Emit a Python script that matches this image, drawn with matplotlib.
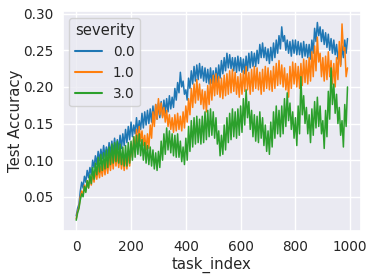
import numpy as np
import matplotlib
matplotlib.use("Agg")
import matplotlib.pyplot as plt
import seaborn as sns

task_index = list(range(0, 995, 5))

acc_sev_0 = [
    0.024, 0.034, 0.040, 0.058, 0.070, 0.062, 0.078, 0.070, 0.086, 0.076, 0.090, 0.080, 0.100, 0.090, 0.106, 0.094, 0.112, 0.099, 0.115, 0.102,
    0.120, 0.104, 0.118, 0.106, 0.124, 0.108, 0.126, 0.110, 0.130, 0.112, 0.128, 0.114, 0.134, 0.116, 0.136, 0.120, 0.142, 0.124, 0.146, 0.128,
    0.152, 0.132, 0.148, 0.136, 0.158, 0.138, 0.154, 0.142, 0.164, 0.144, 0.166, 0.148, 0.168, 0.150, 0.170, 0.152, 0.174, 0.154, 0.176, 0.156,
    0.178, 0.158, 0.180, 0.160, 0.182, 0.164, 0.184, 0.166, 0.188, 0.170, 0.186, 0.172, 0.198, 0.182, 0.206, 0.192, 0.220, 0.200, 0.208, 0.190,
    0.196, 0.182, 0.212, 0.198, 0.222, 0.204, 0.228, 0.208, 0.230, 0.210, 0.232, 0.212, 0.228, 0.208, 0.226, 0.206, 0.224, 0.204, 0.226, 0.205,
    0.222, 0.203, 0.226, 0.206, 0.230, 0.212, 0.236, 0.218, 0.240, 0.222, 0.246, 0.226, 0.244, 0.225, 0.240, 0.222, 0.240, 0.220, 0.242, 0.222,
    0.240, 0.220, 0.238, 0.218, 0.242, 0.222, 0.246, 0.226, 0.248, 0.228, 0.246, 0.228, 0.250, 0.232, 0.258, 0.240, 0.260, 0.240, 0.254, 0.236,
    0.252, 0.232, 0.254, 0.236, 0.260, 0.240, 0.264, 0.246, 0.270, 0.252, 0.282, 0.262, 0.270, 0.250, 0.264, 0.246, 0.262, 0.242, 0.264, 0.246,
    0.264, 0.244, 0.262, 0.244, 0.260, 0.240, 0.262, 0.242, 0.258, 0.240, 0.258, 0.238, 0.264, 0.246, 0.280, 0.262, 0.288, 0.270, 0.282, 0.262,
    0.278, 0.258, 0.274, 0.254, 0.272, 0.250, 0.266, 0.246, 0.264, 0.244, 0.258, 0.238, 0.248, 0.230, 0.256, 0.240, 0.264, 0.246, 0.266]

acc_sev_1 = [
    0.020, 0.030, 0.036, 0.050, 0.058, 0.052, 0.066, 0.058, 0.072, 0.062, 0.076, 0.066, 0.082, 0.070, 0.086, 0.074, 0.090, 0.076, 0.092, 0.078,
    0.096, 0.080, 0.100, 0.082, 0.104, 0.086, 0.108, 0.088, 0.112, 0.092, 0.110, 0.090, 0.108, 0.088, 0.104, 0.086, 0.106, 0.088, 0.110, 0.092,
    0.122, 0.104, 0.132, 0.112, 0.142, 0.122, 0.146, 0.126, 0.140, 0.120, 0.134, 0.114, 0.136, 0.116, 0.148, 0.130, 0.166, 0.146, 0.176, 0.156,
    0.184, 0.162, 0.178, 0.158, 0.172, 0.152, 0.168, 0.146, 0.162, 0.142, 0.158, 0.138, 0.162, 0.140, 0.164, 0.142, 0.160, 0.140, 0.166, 0.144,
    0.174, 0.152, 0.184, 0.162, 0.198, 0.172, 0.204, 0.178, 0.210, 0.182, 0.204, 0.176, 0.196, 0.170, 0.194, 0.166, 0.202, 0.176, 0.210, 0.182,
    0.216, 0.188, 0.218, 0.190, 0.214, 0.186, 0.212, 0.184, 0.216, 0.188, 0.218, 0.190, 0.222, 0.192, 0.224, 0.194, 0.220, 0.190, 0.214, 0.186,
    0.218, 0.190, 0.222, 0.194, 0.228, 0.196, 0.220, 0.190, 0.224, 0.194, 0.228, 0.198, 0.226, 0.196, 0.220, 0.190, 0.224, 0.194, 0.228, 0.198,
    0.226, 0.196, 0.222, 0.194, 0.228, 0.198, 0.232, 0.202, 0.236, 0.204, 0.230, 0.200, 0.226, 0.196, 0.218, 0.186, 0.228, 0.198, 0.234, 0.204,
    0.232, 0.200, 0.228, 0.198, 0.232, 0.202, 0.238, 0.206, 0.236, 0.204, 0.240, 0.208, 0.248, 0.214, 0.256, 0.222, 0.268, 0.234, 0.246, 0.214,
    0.240, 0.208, 0.242, 0.210, 0.248, 0.214, 0.236, 0.204, 0.232, 0.200, 0.240, 0.210, 0.262, 0.228, 0.286, 0.250, 0.254, 0.214, 0.226]

acc_sev_3 = [
    0.018, 0.028, 0.034, 0.046, 0.054, 0.050, 0.064, 0.056, 0.072, 0.062, 0.080, 0.068, 0.090, 0.074, 0.096, 0.080, 0.104, 0.084, 0.108, 0.086,
    0.110, 0.088, 0.114, 0.090, 0.118, 0.094, 0.122, 0.096, 0.124, 0.098, 0.126, 0.096, 0.122, 0.094, 0.118, 0.092, 0.120, 0.092, 0.124, 0.096,
    0.126, 0.100, 0.132, 0.104, 0.134, 0.108, 0.136, 0.106, 0.128, 0.100, 0.124, 0.096, 0.120, 0.094, 0.118, 0.092, 0.114, 0.088, 0.110, 0.086,
    0.112, 0.090, 0.126, 0.100, 0.136, 0.108, 0.144, 0.114, 0.140, 0.110, 0.136, 0.106, 0.134, 0.104, 0.136, 0.104, 0.126, 0.098, 0.118, 0.094,
    0.130, 0.100, 0.146, 0.112, 0.154, 0.118, 0.158, 0.122, 0.160, 0.124, 0.156, 0.122, 0.160, 0.124, 0.166, 0.128, 0.168, 0.132, 0.170, 0.134,
    0.166, 0.130, 0.158, 0.122, 0.140, 0.106, 0.134, 0.108, 0.148, 0.114, 0.158, 0.124, 0.164, 0.128, 0.170, 0.132, 0.166, 0.130, 0.170, 0.134,
    0.174, 0.138, 0.184, 0.148, 0.196, 0.158, 0.180, 0.142, 0.168, 0.132, 0.162, 0.126, 0.160, 0.124, 0.166, 0.130, 0.158, 0.120, 0.148, 0.112,
    0.140, 0.108, 0.152, 0.118, 0.166, 0.130, 0.174, 0.136, 0.168, 0.132, 0.174, 0.136, 0.184, 0.146, 0.192, 0.154, 0.178, 0.142, 0.166, 0.130,
    0.158, 0.120, 0.174, 0.136, 0.214, 0.162, 0.188, 0.150, 0.172, 0.136, 0.162, 0.124, 0.170, 0.134, 0.180, 0.144, 0.186, 0.146, 0.174, 0.136,
    0.154, 0.116, 0.168, 0.132, 0.194, 0.156, 0.226, 0.176, 0.204, 0.164, 0.190, 0.150, 0.172, 0.134, 0.154, 0.118, 0.176, 0.146, 0.200]

severities = ["0.0", "1.0", "3.0"]
series = [acc_sev_0, acc_sev_1, acc_sev_3]
colors = ["#1f77b4", "#ff7f0e", "#2ca02c"]

sns.set_theme(style="darkgrid")
plt.rcParams['font.family'] = ['DejaVu Sans']

fig = plt.figure(figsize=(3.73, 2.78), dpi=100)
ax = fig.add_axes([0.168, 0.169, 0.800, 0.791])
for sev, vals, c in zip(severities, series, colors):
    ax.plot(task_index, vals, color=c, lw=1.1, label=sev)

ax.set_xlim(-49.5, 1039.5)
ax.set_ylim(0.0033, 0.3035)
ax.set_xticks([0, 200, 400, 600, 800, 1000])
ax.set_yticks([0.05, 0.10, 0.15, 0.20, 0.25, 0.30])
ax.tick_params(labelsize=9.8, length=0, pad=6.5)
ax.set_xlabel("task_index", fontsize=10.7, labelpad=2)
ax.set_ylabel("Test Accuracy", fontsize=10.7, labelpad=0.5)
leg = ax.legend(title="severity", loc="upper left", fontsize=9.8, title_fontsize=10.7,
                handlelength=2.0)
for line in leg.get_lines():
    line.set_linewidth(1.5)
fig.savefig("out.png", dpi=100)
